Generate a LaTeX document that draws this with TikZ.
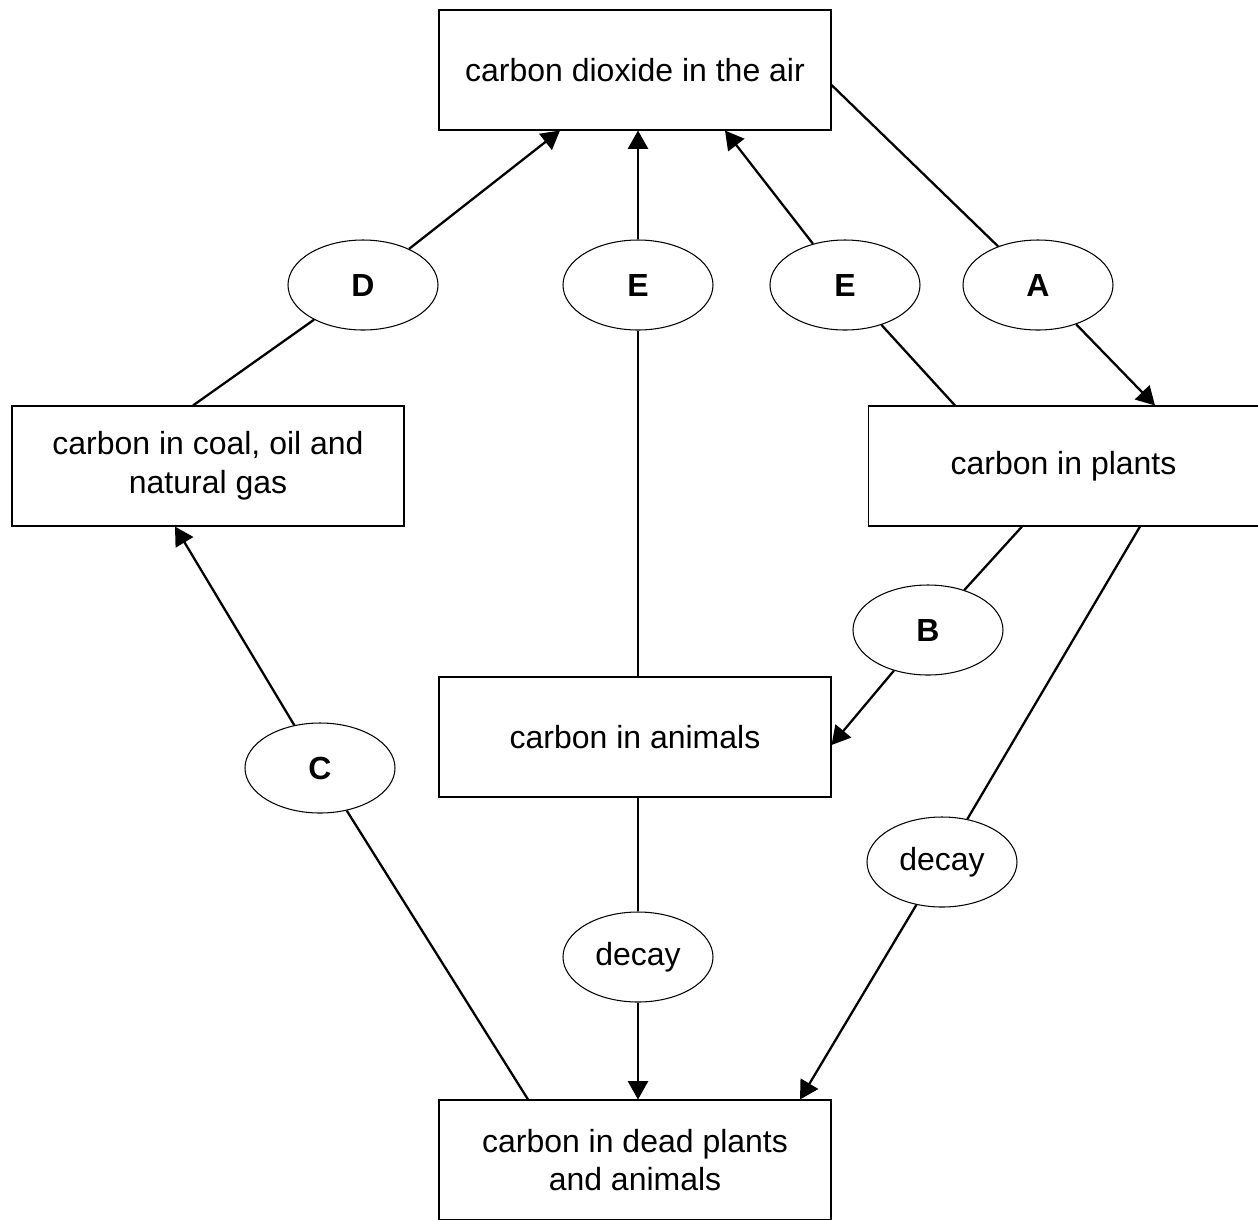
\documentclass[tikz,border=0pt]{standalone}
\usepackage{fontspec}
\setmainfont{Liberation Sans}
\usetikzlibrary{arrows.meta,shapes.geometric}
\begin{document}
\begin{tikzpicture}[
    store/.style={draw, line width=0.6pt, minimum width=7.84cm, minimum height=2.4cm,
        align=center, font=\fontsize{18.2}{22}\selectfont},
    proc/.style={draw, ellipse, line width=0.6pt, minimum width=3cm, minimum height=1.8cm,
        inner sep=0pt, font=\fontsize{18.2}{22}\selectfont},
    flow/.style={line width=1.3pt, -{Triangle[length=10.5pt,width=11.5pt]}}]
    \useasboundingbox (0,0) rectangle (25.16,-24.38);
    % boxes
    \node[store] (air) at (12.7,-1.4) {carbon dioxide in the air};
    \node[store] (coal) at (4.16,-9.32) {carbon in coal, oil and\\natural gas};
    \node[store, minimum width=7.8cm] (plants) at (21.27,-9.32) {carbon in plants};
    \node[store] (animals) at (12.7,-14.74) {carbon in animals};
    \node[store] (dead) at (12.7,-23.2) {carbon in dead plants\\and animals};
    % processes
    \node[proc] (D) at (7.26,-5.7) {\bfseries D};
    \node[proc] (E1) at (12.76,-5.7) {\bfseries E};
    \node[proc] (E2) at (16.9,-5.7) {\bfseries E};
    \node[proc] (A) at (20.76,-5.7) {\bfseries A};
    \node[proc] (B) at (18.56,-12.6) {\bfseries B};
    \node[proc] (C) at (6.4,-15.36) {\bfseries C};
    \node[proc] (decayA) at (12.76,-19.14) {decay};
    \node[proc] (decayP) at (18.84,-17.24) {decay};
    % arrows
    \draw[flow] ([xshift=-0.3cm]coal.north) -- (D) -- ([xshift=-1.5cm]air.south);
    \draw[flow] (animals.north -| E1) -- (E1) -- (air.south -| E1);
    \draw[flow] ([xshift=-2.17cm]plants.north) -- (E2) -- ([xshift=1.8cm]air.south);
    \draw[flow] ([yshift=-0.3cm]air.east) -- (A) -- ([xshift=1.83cm]plants.north);
    \draw[flow] ([xshift=-0.83cm]plants.south) -- (B) -- ([yshift=-0.16cm]animals.east);
    \draw[flow] ([xshift=-2.14cm]dead.north) -- (C) -- ([xshift=-0.66cm]coal.south);
    \draw[flow] (animals.south -| decayA) -- (decayA) -- (dead.north -| decayA);
    \draw[flow] ([xshift=1.53cm]plants.south) -- (decayP) -- ([xshift=3.3cm]dead.north);
\end{tikzpicture}
\end{document}
